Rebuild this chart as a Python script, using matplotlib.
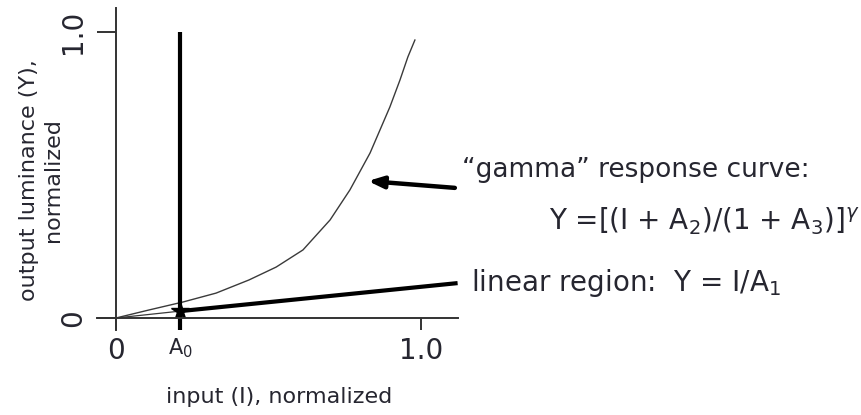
import matplotlib
matplotlib.use("Agg")
import matplotlib.pyplot as plt

# ---- data ----
A0 = 0.21
curve_x = [0.0, 0.108, 0.220, 0.328, 0.436, 0.525, 0.613, 0.702, 0.767, 0.833, 0.898, 0.931, 0.957, 0.980]
curve_y = [0.0, 0.028, 0.056, 0.087, 0.133, 0.178, 0.238, 0.343, 0.448, 0.577, 0.738, 0.832, 0.913, 0.972]
lin_thin_x = [0.0, A0]
lin_thin_y = [0.0, 0.024]
lin_thick_x = [A0, 1.12]
lin_thick_y = [0.024, 0.122]
vline_y = [-0.042, 1.0]
xticks = [0.0, A0, 1.0]
xtick_labels = ["0", r"A$_0$", "1.0"]
yticks = [0.0, 1.0]
ytick_labels = ["0", "1.0"]

TXT = "#262630"
W, H = 862, 415
fig = plt.figure(figsize=(W / 100, H / 100), dpi=100)
ax = fig.add_axes([97.1 / W, (H - 330) / H, 360.5 / W, 322 / H])
ax.set_xlim(-0.062, 1.12)
ax.set_ylim(-0.042, 1.084)

for s in ["top", "right"]:
    ax.spines[s].set_visible(False)
ax.spines["left"].set_position(("data", 0))
ax.spines["bottom"].set_position(("data", 0))
for s in ["left", "bottom"]:
    ax.spines[s].set_linewidth(1.4)
    ax.spines[s].set_color("#333333")

ax.set_xticks(xticks)
ax.set_xticklabels(xtick_labels)
ax.set_yticks(yticks)
ax.set_yticklabels(ytick_labels, rotation=90, va="center")
ax.tick_params(axis="x", direction="out", length=8.6, width=1.4, color="#333333",
               labelsize=20, labelcolor=TXT, pad=5)
ax.tick_params(axis="y", direction="out", length=13.7, width=1.4, color="#333333",
               labelsize=20, labelcolor=TXT, pad=7)
ax.get_xticklabels()[1].set_fontsize(15)

# lines
ax.plot(curve_x, curve_y, color="#3a3a3a", lw=1.0, clip_on=False)
ax.plot(lin_thin_x, lin_thin_y, color="#3a3a3a", lw=0.9, clip_on=False)
ax.plot(lin_thick_x, lin_thick_y, color="black", lw=3.0, clip_on=False, solid_capstyle="butt")
ax.plot([A0, A0], vline_y, color="black", lw=3.0, clip_on=False, solid_capstyle="butt")
ax.plot([A0], [lin_thin_y[1]], marker="*", ms=13, color="black", clip_on=False)

# arrow
ax.annotate("", xy=(0.826, 0.479), xytext=(1.111, 0.455),
            arrowprops=dict(arrowstyle="-|>,head_length=0.9,head_width=0.35",
                            lw=3.2, color="black", shrinkA=0, shrinkB=0),
            annotation_clip=False)

# texts
fig.text(462 / W, 1 - 170 / H, "\u201cgamma\u201d response curve:", fontsize=19,
         color=TXT, ha="left", va="center")
fig.text(860 / W, 1 - 221 / H, r"Y =[(I + A$_2$)/(1 + A$_3$)]$^{\gamma}$", fontsize=20,
         color=TXT, ha="right", va="center")
fig.text(471 / W, 1 - 283 / H, r"linear region:  Y = I/A$_1$", fontsize=20,
         color=TXT, ha="left", va="center")
fig.text(279 / W, 1 - 397 / H, "input (I), normalized", fontsize=16,
         color=TXT, ha="center", va="center")
fig.text(41 / W, 1 - 180 / H, "output luminance (Y),\nnormalized", fontsize=16,
         color=TXT, ha="center", va="center", rotation=90, multialignment="center",
         linespacing=1.25)

fig.savefig("out.png", dpi=100)
